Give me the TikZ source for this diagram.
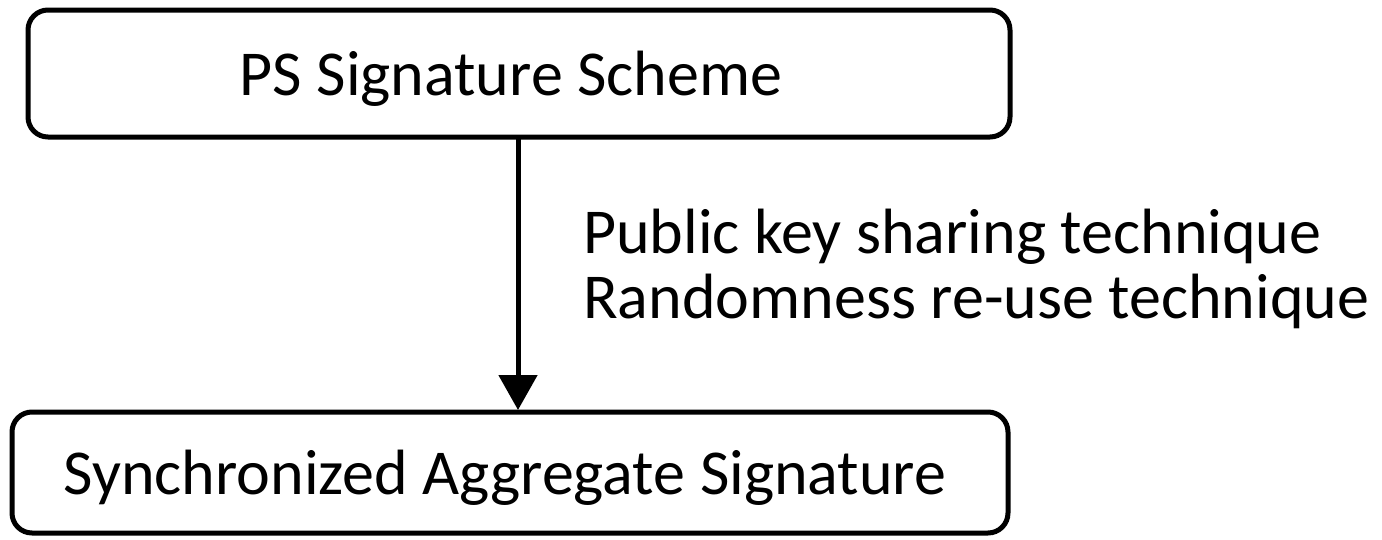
\documentclass[tikz,border=0pt]{standalone}
\usepackage{fontspec}
\setmainfont{Carlito}
\usetikzlibrary{arrows.meta}
\begin{document}
\begin{tikzpicture}[x=1pt,y=-1pt,
  box/.style={draw=black,line width=5pt,rounded corners=20pt},
  lbl/.style={font=\fontsize{64}{76}\selectfont,inner sep=0pt,anchor=base},
  arr/.style={line width=5pt,-{Triangle[width=38pt,length=35pt]}}]
\useasboundingbox (0,0) rectangle (1382,539);
\draw[box] (28,10) rectangle (1010,137);
\draw[box] (12,412) rectangle (1008,533);
\node[lbl] (top) at (511,95) {PS Signature Scheme};
\node[lbl] (bot) at (505,494) {Synchronized Aggregate Signature};
\coordinate (a) at (518,137);
\coordinate (b) at (518,410);
\draw[arr] (a) -- (b);
\node[lbl,anchor=base west] (l1) at (583,253) {Public key sharing technique};
\node[lbl,anchor=base west] (l2) at (583,318) {Randomness re-use technique};
\end{tikzpicture}
\end{document}
